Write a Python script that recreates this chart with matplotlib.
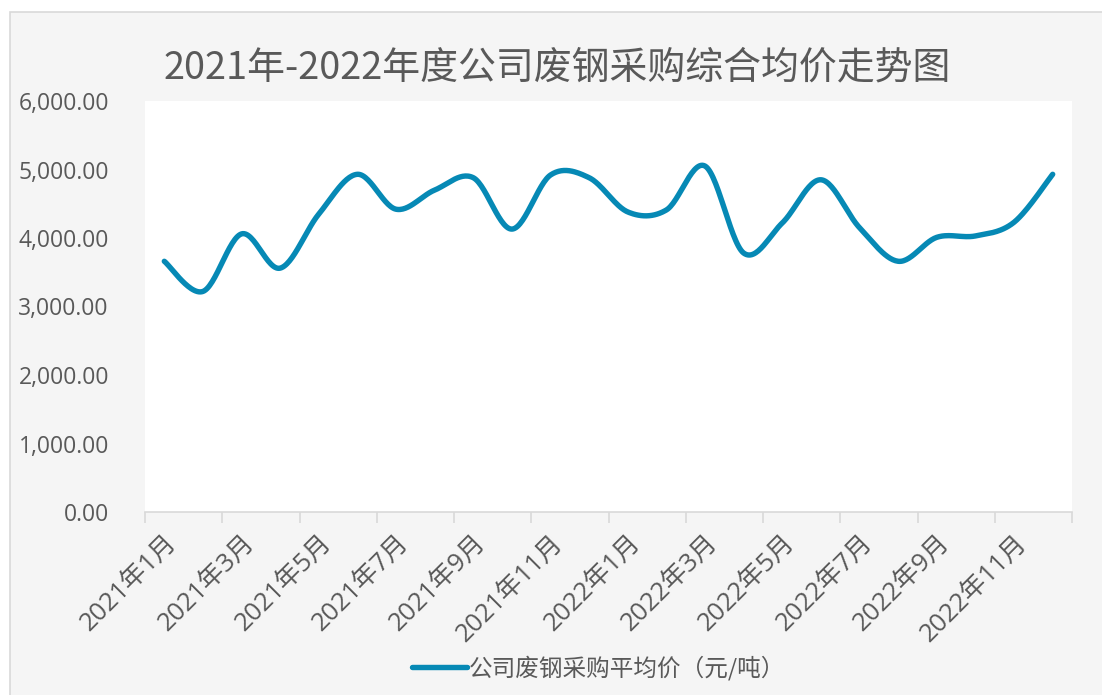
import numpy as np
import matplotlib
matplotlib.use("Agg")
import matplotlib.pyplot as plt
from matplotlib.patches import Rectangle
from matplotlib.lines import Line2D

months = [f"2021年{m}月" for m in range(1, 13)] + [f"2022年{m}月" for m in range(1, 13)]
prices = [3660, 3220, 4060, 3560, 4350, 4930, 4420, 4700, 4880, 4130, 4920, 4880,
          4380, 4410, 5050, 3780, 4220, 4850, 4150, 3660, 4010, 4030, 4230, 4930]
series_name = "公司废钢采购平均价（元/吨）"
title = "2021年-2022年度公司废钢采购综合均价走势图"
yticks = [0, 1000, 2000, 3000, 4000, 5000, 6000]

def smooth(x, y, n=30):
    x = np.asarray(x, float); y = np.asarray(y, float)
    px = np.concatenate([[x[0]], x, [x[-1]]])
    py = np.concatenate([[y[0]], y, [y[-1]]])
    xs, ys = [], []
    t = np.linspace(0, 1, n)
    for i in range(1, len(px) - 2):
        p0 = np.array([px[i], py[i]]); p3 = np.array([px[i+1], py[i+1]])
        p1 = p0 + (np.array([px[i+1], py[i+1]]) - np.array([px[i-1], py[i-1]])) / 6
        p2 = p3 - (np.array([px[i+2], py[i+2]]) - np.array([px[i], py[i]])) / 6
        b = ((1-t)**3)[:, None]*p0 + (3*(1-t)**2*t)[:, None]*p1 + (3*(1-t)*t**2)[:, None]*p2 + (t**3)[:, None]*p3
        xs.append(b[:, 0]); ys.append(b[:, 1])
    return np.concatenate(xs), np.concatenate(ys)

W, H = 1102, 695
fig = plt.figure(figsize=(W/100, H/100), dpi=100)
fig.patch.set_facecolor("white")
bg = Rectangle((10/W, -0.01), 1.02, (H-12)/H + 0.01, transform=fig.transFigure,
               facecolor="#f5f5f5", edgecolor="#d9d9d9", linewidth=1.2, zorder=-5)
fig.add_artist(bg)

ax = fig.add_axes([145/W, (H-512)/H, (1072-145)/W, (512-101)/H])
ax.set_facecolor("white")
x = np.arange(len(prices))
sx, sy = smooth(x, prices)
color = "#0689b5"
ax.plot(sx, sy, color=color, lw=3.9, solid_capstyle="round", solid_joinstyle="round")

ax.set_xlim(-0.5, len(prices) - 0.5)
ax.set_ylim(0, 6000)
ax.set_yticks(yticks)
ax.set_yticklabels([f"{v:,.2f}" for v in yticks], family=["Open Sans", "Noto Sans CJK SC"],
                   fontsize=16.5, color="#595959")
ax.tick_params(axis="y", length=0, pad=26)

ax.set_xticks(x[::2])
ax.set_xticklabels(months[::2], rotation=45, ha="right", va="top", rotation_mode="anchor",
                   family=["Open Sans", "Noto Sans CJK SC"], fontsize=18.5, color="#595959")
ax.set_xticks(np.arange(-0.5, len(prices), 2), minor=True)
ax.tick_params(axis="x", which="major", length=0, pad=13)
ax.tick_params(axis="x", which="minor", length=8, color="#d9d9d9", width=1.2)

for s in ["top", "right", "left"]:
    ax.spines[s].set_visible(False)
ax.spines["bottom"].set_color("#d9d9d9")
ax.spines["bottom"].set_linewidth(1.2)

fig.text(557/W, (H-68)/H, title, ha="center", va="center", fontsize=27.3,
         family=["Noto Sans CJK SC", "DejaVu Sans"], color="#595959")

leg = ax.legend([Line2D([0], [0], color=color, lw=3.9, solid_capstyle="round")], [series_name],
                loc="center", bbox_to_anchor=(599/W, (H-668)/H), bbox_transform=fig.transFigure,
                frameon=False, handlelength=2.3, handletextpad=0.1,
                prop={"family": ["Noto Sans CJK SC"], "size": 17})
for t in leg.get_texts():
    t.set_color("#595959")

fig.savefig("out.png", dpi=100, facecolor=fig.get_facecolor())
